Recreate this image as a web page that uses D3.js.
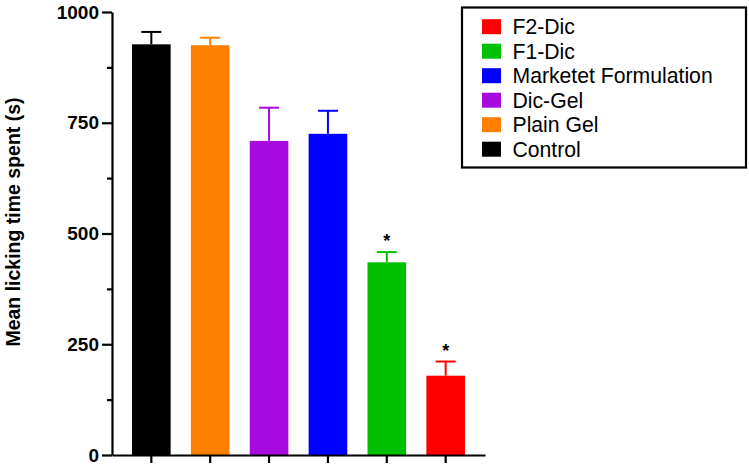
<!DOCTYPE html>
<html><head><meta charset="utf-8">
<script src="https://cdn.jsdelivr.net/npm/d3@7"></script>
<style>body{margin:0;background:#fff}svg{display:block}text{font-family:"Liberation Sans",Arial,sans-serif}</style>
</head><body><svg id="c" width="749" height="467"></svg>
<script>
const categories = ["Control","Plain Gel","Dic-Gel","Marketet Formulation","F1-Dic","F2-Dic"];
const means = [927, 925, 709, 725, 435, 179];
const errors = [28, 17, 75, 52, 23, 32];
const significant = [false, false, false, false, true, true];
const colors = ["#000000","#FF8000","#A60ADF","#0000FF","#00C000","#FF0000"];
const yTicks = [0, 250, 500, 750, 1000];
const yMinorTicks = [125, 375, 625, 875];
const legendOrder = ["F2-Dic","F1-Dic","Marketet Formulation","Dic-Gel","Plain Gel","Control"];

const svg = d3.select("#c");
const x = d3.scaleBand().domain(categories).range([112, 485]).paddingInner(0.344).paddingOuter(0.34);
const y = d3.scaleLinear().domain([0, 1000]).range([455, 12]);
const color = d3.scaleOrdinal().domain(categories).range(colors);

// bars
svg.selectAll("rect.bar").data(categories).join("rect")
  .attr("x", d => x(d)).attr("width", x.bandwidth())
  .attr("y", (d,i) => y(means[i])).attr("height", (d,i) => y(0) - y(means[i]))
  .attr("fill", d => color(d));

// error bars
const eb = svg.append("g");
categories.forEach((c,i) => {
  const cx = x(c) + x.bandwidth()/2;
  const col = color(c);
  eb.append("line").attr("x1", cx).attr("x2", cx).attr("y1", y(means[i])).attr("y2", y(means[i]+errors[i]))
    .attr("stroke", col).attr("stroke-width", 2);
  eb.append("line").attr("x1", cx-10).attr("x2", cx+10).attr("y1", y(means[i]+errors[i])).attr("y2", y(means[i]+errors[i]))
    .attr("stroke", col).attr("stroke-width", 2);
  if (significant[i]) {
    eb.append("text").attr("x", cx).attr("y", y(means[i]+errors[i]) - 5)
      .attr("text-anchor","middle").attr("font-size", 18).attr("font-weight","bold").text("*");
  }
});

// y axis
const yAxis = svg.append("g").attr("transform","translate(112,0)")
  .call(d3.axisLeft(y).tickValues(yTicks).tickSize(10).tickSizeOuter(0).tickPadding(3).tickFormat(d3.format("d")));
yAxis.select(".domain").attr("stroke-width", 2.2);
yAxis.selectAll(".tick line").attr("stroke-width", 2.2);
yAxis.selectAll(".tick text").attr("font-size", 19).attr("font-weight","bold").attr("fill","#000")
  .style("font-family","'Liberation Sans',Arial,sans-serif");
svg.append("g").attr("transform","translate(112,0)")
  .call(d3.axisLeft(y).tickValues(yMinorTicks).tickSize(5).tickFormat(""))
  .call(g => g.select(".domain").remove())
  .selectAll("line").attr("stroke-width", 2.2);

// x axis
const xAxis = svg.append("g").attr("transform","translate(0,455)")
  .call(d3.axisBottom(x).tickSize(8).tickSizeOuter(0).tickFormat(""));
xAxis.select(".domain").attr("stroke-width", 2.2);
xAxis.selectAll(".tick line").attr("stroke-width", 2.2);

// y title
svg.append("text").attr("transform","translate(20,222) rotate(-90)")
  .attr("text-anchor","middle").attr("font-size", 19.5).attr("font-weight","bold").text("Mean licking time spent (s)");

// legend
const lg = svg.append("g");
lg.append("rect").attr("x", 462).attr("y", 7.5).attr("width", 284).attr("height", 160)
  .attr("fill","none").attr("stroke","#000").attr("stroke-width", 2.2);
legendOrder.forEach((name, i) => {
  const ry = 26.7 + i*24.5;
  lg.append("rect").attr("x", 482).attr("y", ry - 7.5).attr("width", 19).attr("height", 15).attr("fill", color(name));
  lg.append("text").attr("x", 512.5).attr("y", ry + 7.5).attr("font-size", 21.2).attr("fill","#000").text(name);
});
</script></body></html>
